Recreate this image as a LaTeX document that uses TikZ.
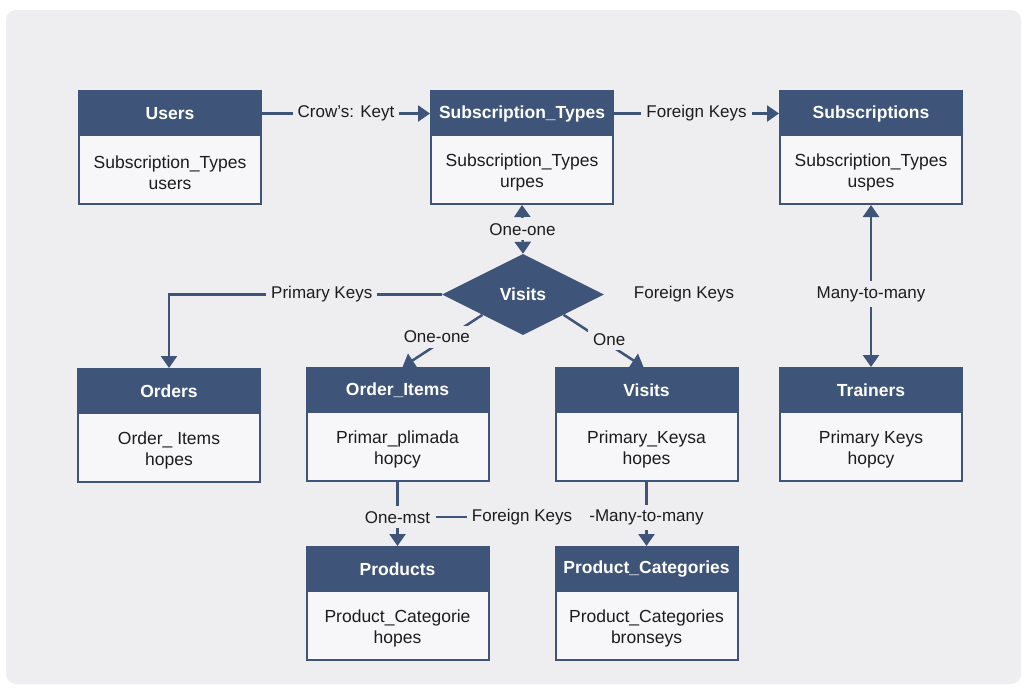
\documentclass[tikz,border=0pt]{standalone}
\usepackage{fontspec}
\setmainfont{Liberation Sans}
\usetikzlibrary{arrows.meta,shapes.geometric,calc}

\definecolor{navy}{RGB}{62,84,121}
\definecolor{panel}{RGB}{238,238,241}
\definecolor{bodyfill}{RGB}{247,247,249}
\definecolor{ink}{RGB}{28,28,30}

\tikzset{
  entbox/.style={draw=navy, line width=2pt, fill=bodyfill,
    minimum width=182pt, minimum height=113pt, inner sep=0pt},
  enthead/.style={draw=navy, line width=2pt, fill=navy,
    minimum width=182pt, minimum height=43pt, inner sep=0pt,
    text=white, font=\fontsize{17.5}{21}\selectfont\bfseries},
  entbody/.style={align=center, text=ink, inner sep=0pt,
    font=\fontsize{17.5}{21}\selectfont},
  conn/.style={draw=navy, line width=2.5pt},
  tip/.style={-{Triangle[width=16pt,length=12pt]}},
  bothtips/.style={{Triangle[width=16pt,length=12pt]}-{Triangle[width=16pt,length=12pt]}},
  lbl/.style={fill=panel, text=ink, inner sep=5pt,
    font=\fontsize{17}{20}\selectfont},
  rel/.style={diamond, fill=navy, aspect=2, inner sep=0pt,
    minimum width=162pt, minimum height=81pt,
    text=white, font=\fontsize{17.5}{21}\selectfont\bfseries},
}

% entity table: name, centre x, top y, title, body line 1, body line 2
\newcommand{\erbox}[6]{%
  \node[entbox] (#1) at (#2,#3+56.5) {};
  \node[enthead, anchor=north] (#1h) at ([yshift=-1pt]#1.north) {#4};
  \node[entbody] (#1t) at ([yshift=-2pt]$(#1h.south)!0.5!(#1.south)$) {#5\\#6};
}

\begin{document}
\begin{tikzpicture}[x=1pt, y=-1pt]
  \useasboundingbox (0,0) rectangle (1024,688);
  \fill[white] (0,0) rectangle (1024,688);
  \fill[panel, rounded corners=10pt] (6,10) rectangle (1021,684);

  % tables
  \erbox{users}{170}{91}{Users}{Subscription\_Types}{users}
  \erbox{subtypes}{522}{91}{Subscription\_Types}{Subscription\_Types}{urpes}
  \erbox{subs}{871}{91}{Subscriptions}{Subscription\_Types}{uspes}
  \erbox{orders}{169}{369}{Orders}{Order\_ Items}{hopes}
  \erbox{orderitems}{397.5}{368}{Order\_Items}{Primar\_plimada}{hopcy}
  \erbox{visitsbox}{646.5}{368}{Visits}{Primary\_Keysa}{hopes}
  \erbox{trainers}{871}{368}{Trainers}{Primary Keys}{hopcy}
  \erbox{products}{397.5}{547}{Products}{Product\_Categorie}{hopes}
  \erbox{prodcat}{646.5}{547}{Product\_Categories}{Product\_Categories}{bronseys}

  % relationship
  \node[rel] (visits) at (523,294.5) {Visits};

  % connectors
  \draw[conn,tip] (usersh.east) -- node[lbl]{Crow’s: Keyt} (subtypesh.west);
  \draw[conn,tip] (subtypesh.east) -- node[lbl]{Foreign Keys} (subsh.west);
  \draw[conn,bothtips] (subtypes.south) -- node[lbl]{One-one} (visits.north);
  \draw[conn,tip] (visits.west) -| node[lbl,pos=0.22]{Primary Keys} (orders.north);
  \draw[conn,tip] (visits.south west) -- node[lbl,pos=0.42,xshift=-12pt]{One-one}
    ([xshift=5pt]orderitems.north);
  \draw[conn,tip] (visits.south east) -- node[lbl,pos=0.47,xshift=8pt]{One}
    ([xshift=-3pt]visitsbox.north);
  \node[lbl, fill=none] (fkright) at (684,294) {Foreign Keys};
  \draw[conn,bothtips] (subs.south) -- node[lbl,pos=0.55]{Many-to-many} (trainers.north);
  \draw[conn,tip] (orderitems.south) -- node[lbl,pos=0.55] (om) {One-mst} (products.north);
  \draw[conn,tip] (visitsbox.south) -- node[lbl,pos=0.55] (mm) {-Many-to-many} (prodcat.north);
  \node[lbl] (fkmid) at (522,517.3) {Foreign Keys};
  \draw[conn] (om.east) -- (om.east -| fkmid.west);
\end{tikzpicture}
\end{document}
